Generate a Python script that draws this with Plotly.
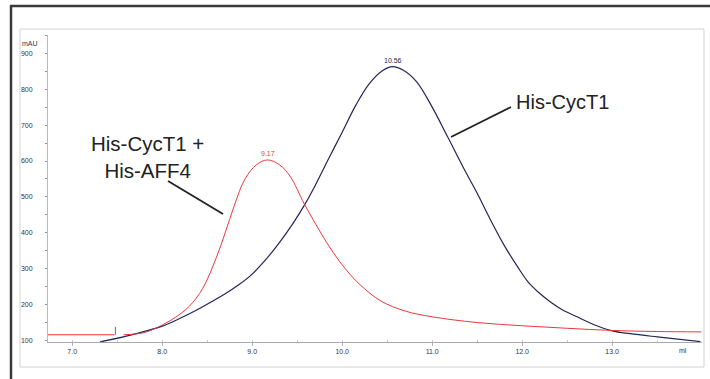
import plotly.graph_objects as go

# ---------------- data ----------------
blue_x = [7.31, 7.6, 8.0, 8.2, 8.42, 8.7, 8.85, 9.0, 9.15, 9.3, 9.45, 9.58, 9.7, 9.85,
          10.0, 10.15, 10.3, 10.45, 10.56, 10.68, 10.83, 11.0, 11.17, 11.35, 11.5, 11.65,
          11.8, 11.95, 12.06, 12.2, 12.31, 12.45, 12.61, 12.8, 13.0, 13.2, 13.5, 13.98]
blue_y = [96, 112, 140, 162, 190, 230, 255, 285, 325, 372, 425, 477, 532, 607,
          680, 755, 815, 852, 863, 853, 820, 750, 668, 580, 510, 435,
          365, 305, 265, 230, 208, 185, 166, 144, 127, 119, 110, 97]

red_x = [6.73, 7.47, None, 7.57, 7.8, 8.0, 8.15, 8.3, 8.45, 8.6, 8.7, 8.8, 8.92, 9.05, 9.17,
         9.3, 9.42, 9.58, 9.75, 9.9, 10.05, 10.2, 10.43, 10.7, 11.0, 11.5, 12.0, 12.5,
         13.0, 13.5, 13.99]
red_y = [116, 116, None, 116, 122, 143, 165, 195, 245, 330, 400, 475, 550, 590, 603,
         590, 558, 480, 405, 345, 295, 255, 210, 182, 166, 150, 141, 134,
         128, 125, 124]

inject_x = [7.48, 7.48]
inject_y = [116, 138]

peak_x = [9.17, 10.56]
peak_y = [603, 863]
peak_labels = ["9.17", "10.56"]

x_tick_vals = [7, 8, 9, 10, 11, 12, 13]
x_tick_text = ["7.0", "8.0", "9.0", "10.0", "11.0", "12.0", "13.0"]
y_tick_vals = [100, 200, 300, 400, 500, 600, 700, 800, 900]
y_tick_text = ["100", "200", "300", "400", "500", "600", "700", "800", "900"]

label_left = "His-CycT1 +<br>His-AFF4"
label_right = "His-CycT1"
x_unit = "ml"
y_unit = "mAU"

# ---------------- layout geometry ----------------
W, H = 710, 379
L, R, T, B = 48, 702, 35, 342


def px(xp):
    return (xp - L) / (R - L)


def py(yp):
    return (B - yp) / (B - T)


BLUE = "#24245c"
RED = "#e8383c"

fig = go.Figure()
fig.add_trace(go.Scatter(x=blue_x, y=blue_y, mode="lines",
                         line=dict(color=BLUE, width=1.2, shape="spline", smoothing=1.0),
                         hoverinfo="skip"))
fig.add_trace(go.Scatter(x=red_x, y=red_y, mode="lines", connectgaps=False,
                         line=dict(color=RED, width=1.0, shape="spline", smoothing=1.0),
                         hoverinfo="skip"))
fig.add_trace(go.Scatter(x=inject_x, y=inject_y, mode="lines",
                         line=dict(color=RED, width=1.0), hoverinfo="skip"))

annotations = []
for xv, yv, t, c in zip(peak_x, peak_y, peak_labels, [RED, BLUE]):
    annotations.append(dict(x=xv, y=yv, xref="x", yref="y", text=t, showarrow=False,
                            yanchor="bottom", yshift=1,
                            font=dict(family="Liberation Sans, Arial", size=7, color=c)))

annotations += [
    dict(x=px(147.5), y=py(157), xref="paper", yref="paper", text=label_left,
         showarrow=False, xanchor="center", yanchor="middle", align="center",
         font=dict(family="Liberation Sans, Arial", size=20.5, color="#222222")),
    dict(x=px(562), y=py(102), xref="paper", yref="paper", text=label_right,
         showarrow=False, xanchor="center", yanchor="middle",
         font=dict(family="Liberation Sans, Arial", size=20, color="#222222")),
    dict(x=px(683), y=py(350), xref="paper", yref="paper", text=x_unit,
         showarrow=False, xanchor="center", yanchor="middle",
         font=dict(family="Liberation Sans, Arial", size=7, color="#333344")),
    dict(x=px(20), y=py(43), xref="paper", yref="paper", text=y_unit,
         showarrow=False, xanchor="left", yanchor="middle",
         font=dict(family="Liberation Sans, Arial", size=7, color="#333344")),
]

shapes = [
    # outer dark frame (top & left)
    dict(type="line", xref="paper", yref="paper", x0=px(10), x1=px(712), y0=py(6), y1=py(6),
         line=dict(color="#3a3a3a", width=2.5)),
    dict(type="line", xref="paper", yref="paper", x0=px(11), x1=px(11), y0=py(5), y1=py(385),
         line=dict(color="#3a3a3a", width=2.5)),
    # inner light box
    dict(type="rect", xref="paper", yref="paper", x0=px(20), x1=px(704), y0=py(29), y1=py(367),
         line=dict(color="#d2d2d2", width=1)),
    # pointer lines
    dict(type="line", xref="paper", yref="paper", x0=px(168), y0=py(181), x1=px(223), y1=py(214),
         line=dict(color="#222222", width=1.8)),
    dict(type="line", xref="paper", yref="paper", x0=px(511), y0=py(107), x1=px(451), y1=py(137),
         line=dict(color="#222222", width=1.8)),
]

fig.update_layout(
    width=W, height=H, autosize=False,
    margin=dict(l=L, r=W - R, t=T, b=H - B),
    paper_bgcolor="white", plot_bgcolor="white",
    showlegend=False,
    annotations=annotations,
    shapes=shapes,
)

fig.update_xaxes(range=[6.731, 13.998], showgrid=False, zeroline=False,
                 showline=True, linecolor="#a8a8b0", linewidth=1,
                 tickvals=x_tick_vals, ticktext=x_tick_text,
                 ticks="outside", ticklen=3, tickcolor="#b0b0b8",
                 minor=dict(dtick=0.5, ticks="inside", ticklen=2, tickcolor="#c8c8d0"),
                 tickfont=dict(family="Liberation Sans, Arial", size=7, color="#333344"))
fig.update_yaxes(range=[95.8, 951], showgrid=False, zeroline=False,
                 showline=True, linecolor="#b8b8cc", linewidth=1,
                 tickvals=y_tick_vals, ticktext=y_tick_text,
                 ticks="outside", ticklen=2, tickcolor="#9090a8",
                 ticklabelstandoff=11,
                 minor=dict(tickvals=[150, 250, 350, 450, 550, 650, 750, 850, 950],
                            ticks="outside", ticklen=2, tickcolor="#9090a8"),
                 tickfont=dict(family="Liberation Sans, Arial", size=7, color="#333344"))

fig.write_html("out.html", config={"displayModeBar": False},
               post_script="document.body.style.margin='0';document.body.style.padding='0';")
